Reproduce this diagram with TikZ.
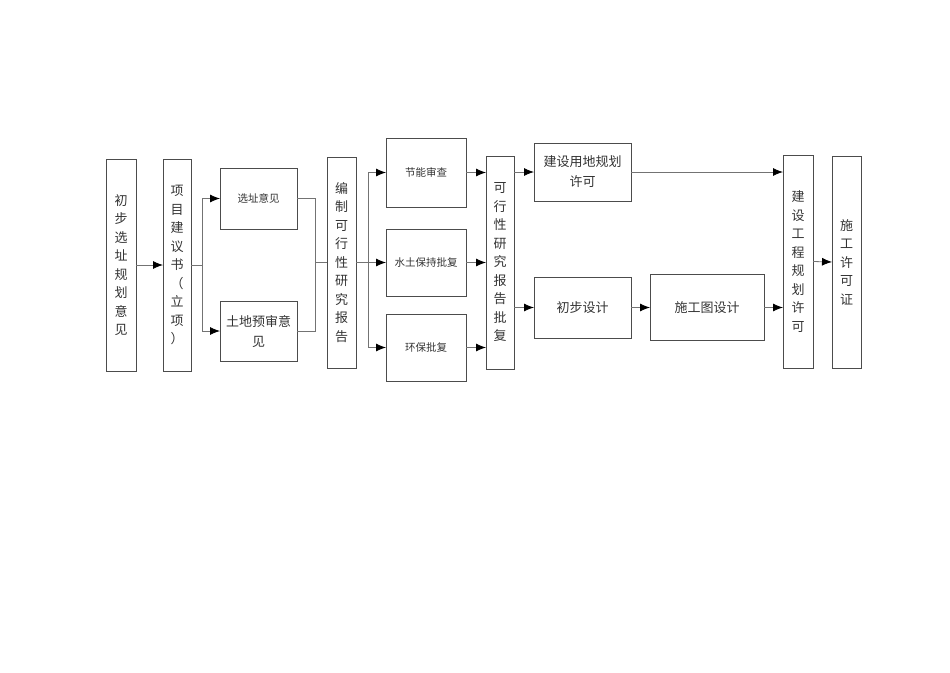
\documentclass[tikz,border=0pt]{standalone}
\usepackage{fontspec}
\setmainfont{Noto Sans CJK SC}
\usetikzlibrary{arrows.meta}

\begin{document}
\begin{tikzpicture}[x=1pt, y=-1pt,
    kasten/.style={draw=black!70, line width=0.7pt, inner sep=0pt, outer sep=0pt, align=center, text=black!80},
    lang/.style={kasten, minimum height=212pt, font=\fontsize{13}{18.5}\selectfont},
    klein/.style={kasten, font=\fontsize{10.5}{13}\selectfont},
    gross/.style={kasten, font=\fontsize{13}{20}\selectfont},
    linie/.style={draw=black!55, line width=0.8pt},
    pfeil/.style={linie, -{Latex[length=10pt,width=8pt,black]}}]
        \useasboundingbox (0,0) rectangle (950,672);

        \node[lang, minimum width=30pt] (xuanzhi) at (121,265) {初\\步\\选\\址\\规\\划\\意\\见}; %linke spalte
        \node[lang, minimum width=28pt] (lixiang) at (177,265) {项\\目\\建\\议\\书\\（\\立\\项\\）};
        \node[klein, minimum width=77pt, minimum height=61pt] (yijian) at (258.5,198.5) {选址意见};
        \node[gross, minimum width=77pt, minimum height=60pt] (yushen) at (258.5,331) {土地预审意\\见};
        \node[lang, minimum width=29pt, minimum height=211pt] (bianzhi) at (341.5,262.5) {编\\制\\可\\行\\性\\研\\究\\报\\告};

        \node[klein, minimum width=80pt, minimum height=69pt] (jieneng) at (426,172.5) {节能审查}; %pruefungen
        \node[klein, minimum width=80pt, minimum height=67pt] (shuitu) at (426,262.5) {水土保持批复};
        \node[klein, minimum width=80pt, minimum height=67pt] (huanbao) at (426,347.5) {环保批复};
        \node[lang, minimum width=28pt, minimum height=213pt] (pifu) at (500,262.5) {可\\行\\性\\研\\究\\报\\告\\批\\复};

        \node[gross, minimum width=97pt, minimum height=58pt] (yongdi) at (582.5,172) {建设用地规划\\许可}; %rechte seite
        \node[gross, minimum width=97pt, minimum height=61pt] (chubu) at (582.5,307.5) {初步设计};
        \node[gross, minimum width=114pt, minimum height=66pt] (shigongtu) at (707,307.5) {施工图设计};
        \node[lang, minimum width=30pt, minimum height=213pt] (gongcheng) at (798,261.5) {建\\设\\工\\程\\规\\划\\许\\可};
        \node[lang, minimum width=29pt] (xuke) at (846.5,262) {施\\工\\许\\可\\证};

        % verzweigung nach lixiang
        \draw[pfeil] (xuanzhi) -- (lixiang);
        \draw[pfeil] (lixiang.east) -- ++(11,0) |- (yijian.west);
        \draw[pfeil] (lixiang.east) -- ++(11,0) |- (yushen.west);

        % zusammenfuehrung vor bianzhi
        \coordinate (merge) at (315,262.5);
        \draw[linie] (yijian.east) -| (merge);
        \draw[linie] (yushen.east) -| (merge);
        \draw[linie] (merge) -- (bianzhi.west);

        % pruefungen
        \draw[pfeil] (bianzhi.east) -- ++(12,0) |- (jieneng.west);
        \draw[pfeil] (bianzhi.east) -- (shuitu.west);
        \draw[pfeil] (bianzhi.east) -- ++(12,0) |- (huanbao.west);
        \draw[pfeil] (jieneng.east) -- (jieneng.east -| pifu.west);
        \draw[pfeil] (shuitu.east) -- (pifu.west);
        \draw[pfeil] (huanbao.east) -- (huanbao.east -| pifu.west);

        % genehmigungen
        \draw[pfeil] (yongdi.west -| pifu.east) -- (yongdi.west);
        \draw[pfeil] (chubu.west -| pifu.east) -- (chubu.west);
        \draw[pfeil] (chubu) -- (shigongtu);
        \draw[pfeil] (shigongtu.east) -- (shigongtu.east -| gongcheng.west);
        \draw[pfeil] (yongdi.east) -- (yongdi.east -| gongcheng.west);
        \draw[pfeil] (gongcheng.east) -- (xuke.west);
    \end{tikzpicture}
\end{document}
